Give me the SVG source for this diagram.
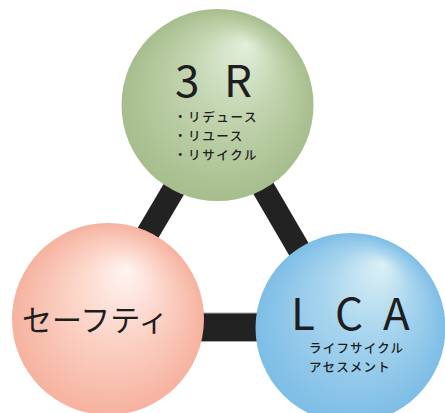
<svg xmlns="http://www.w3.org/2000/svg" width="445" height="413" viewBox="0 0 445 413">
  <defs>
    <radialGradient id="gGreen" cx="0.5" cy="0.5" r="0.5" fx="0.65" fy="0.18">
      <stop offset="0" stop-color="#e2efdc"/>
      <stop offset="0.45" stop-color="#c3d5b0"/>
      <stop offset="1" stop-color="#a6bd8c"/>
    </radialGradient>
    <radialGradient id="gPink" cx="0.5" cy="0.5" r="0.5" fx="0.6" fy="0.24">
      <stop offset="0" stop-color="#fff4f1"/>
      <stop offset="0.45" stop-color="#fcd5c9"/>
      <stop offset="1" stop-color="#f6b29f"/>
    </radialGradient>
    <radialGradient id="gBlue" cx="0.5" cy="0.5" r="0.5" fx="0.67" fy="0.16">
      <stop offset="0" stop-color="#dbf0f5"/>
      <stop offset="0.45" stop-color="#a8d5ee"/>
      <stop offset="1" stop-color="#7dbde6"/>
    </radialGradient>
  </defs>
  <style>
    .bar { stroke: #222222; stroke-linecap: butt; fill: none; }
    .edge { stroke: #a8a8a8; stroke-width: 1; }
    text { font-family: "Noto Sans CJK JP", "Noto Sans", sans-serif; fill: #1e1e1e; }
    .big { font-size: 44px; }
    .title { font-size: 30px; }
    .small { font-size: 12.5px; font-weight: 500; letter-spacing: 1.6px; }
  </style>

  <!-- connecting bars -->
  <g id="connectors">
    <line class="bar" x1="197" y1="150" x2="132" y2="260" stroke-width="23"/>
    <line class="bar" x1="241" y1="150" x2="311" y2="270" stroke-width="23"/>
    <rect x="180" y="313" width="110" height="28" fill="#222222"/>
    <line class="edge" x1="180" y1="313" x2="290" y2="313"/>
    <line class="edge" x1="180" y1="341.5" x2="290" y2="341.5"/>
  </g>

  <!-- 3R -->
  <g id="node-3r">
    <circle cx="217.5" cy="105" r="96" fill="url(#gGreen)"/>
    <text class="big" x="175 224" y="97">3R</text>
    <text class="small" x="174" y="122">・リデュース</text>
    <text class="small" x="174" y="141">・リユース</text>
    <text class="small" x="174" y="160">・リサイクル</text>
  </g>

  <!-- safety -->
  <g id="node-safety">
    <circle cx="108" cy="319" r="96" fill="url(#gPink)"/>
    <text class="title" x="22" y="331">セーフティ</text>
  </g>

  <!-- LCA -->
  <g id="node-lca">
    <circle cx="350.5" cy="328" r="95" fill="url(#gBlue)"/>
    <text class="big" x="291 335 383" y="330">LCA</text>
    <text class="small" x="309" y="353" style="letter-spacing:1.2px">ライフサイクル</text>
    <text class="small" x="309" y="372" style="letter-spacing:1.2px">アセスメント</text>
  </g>
</svg>
